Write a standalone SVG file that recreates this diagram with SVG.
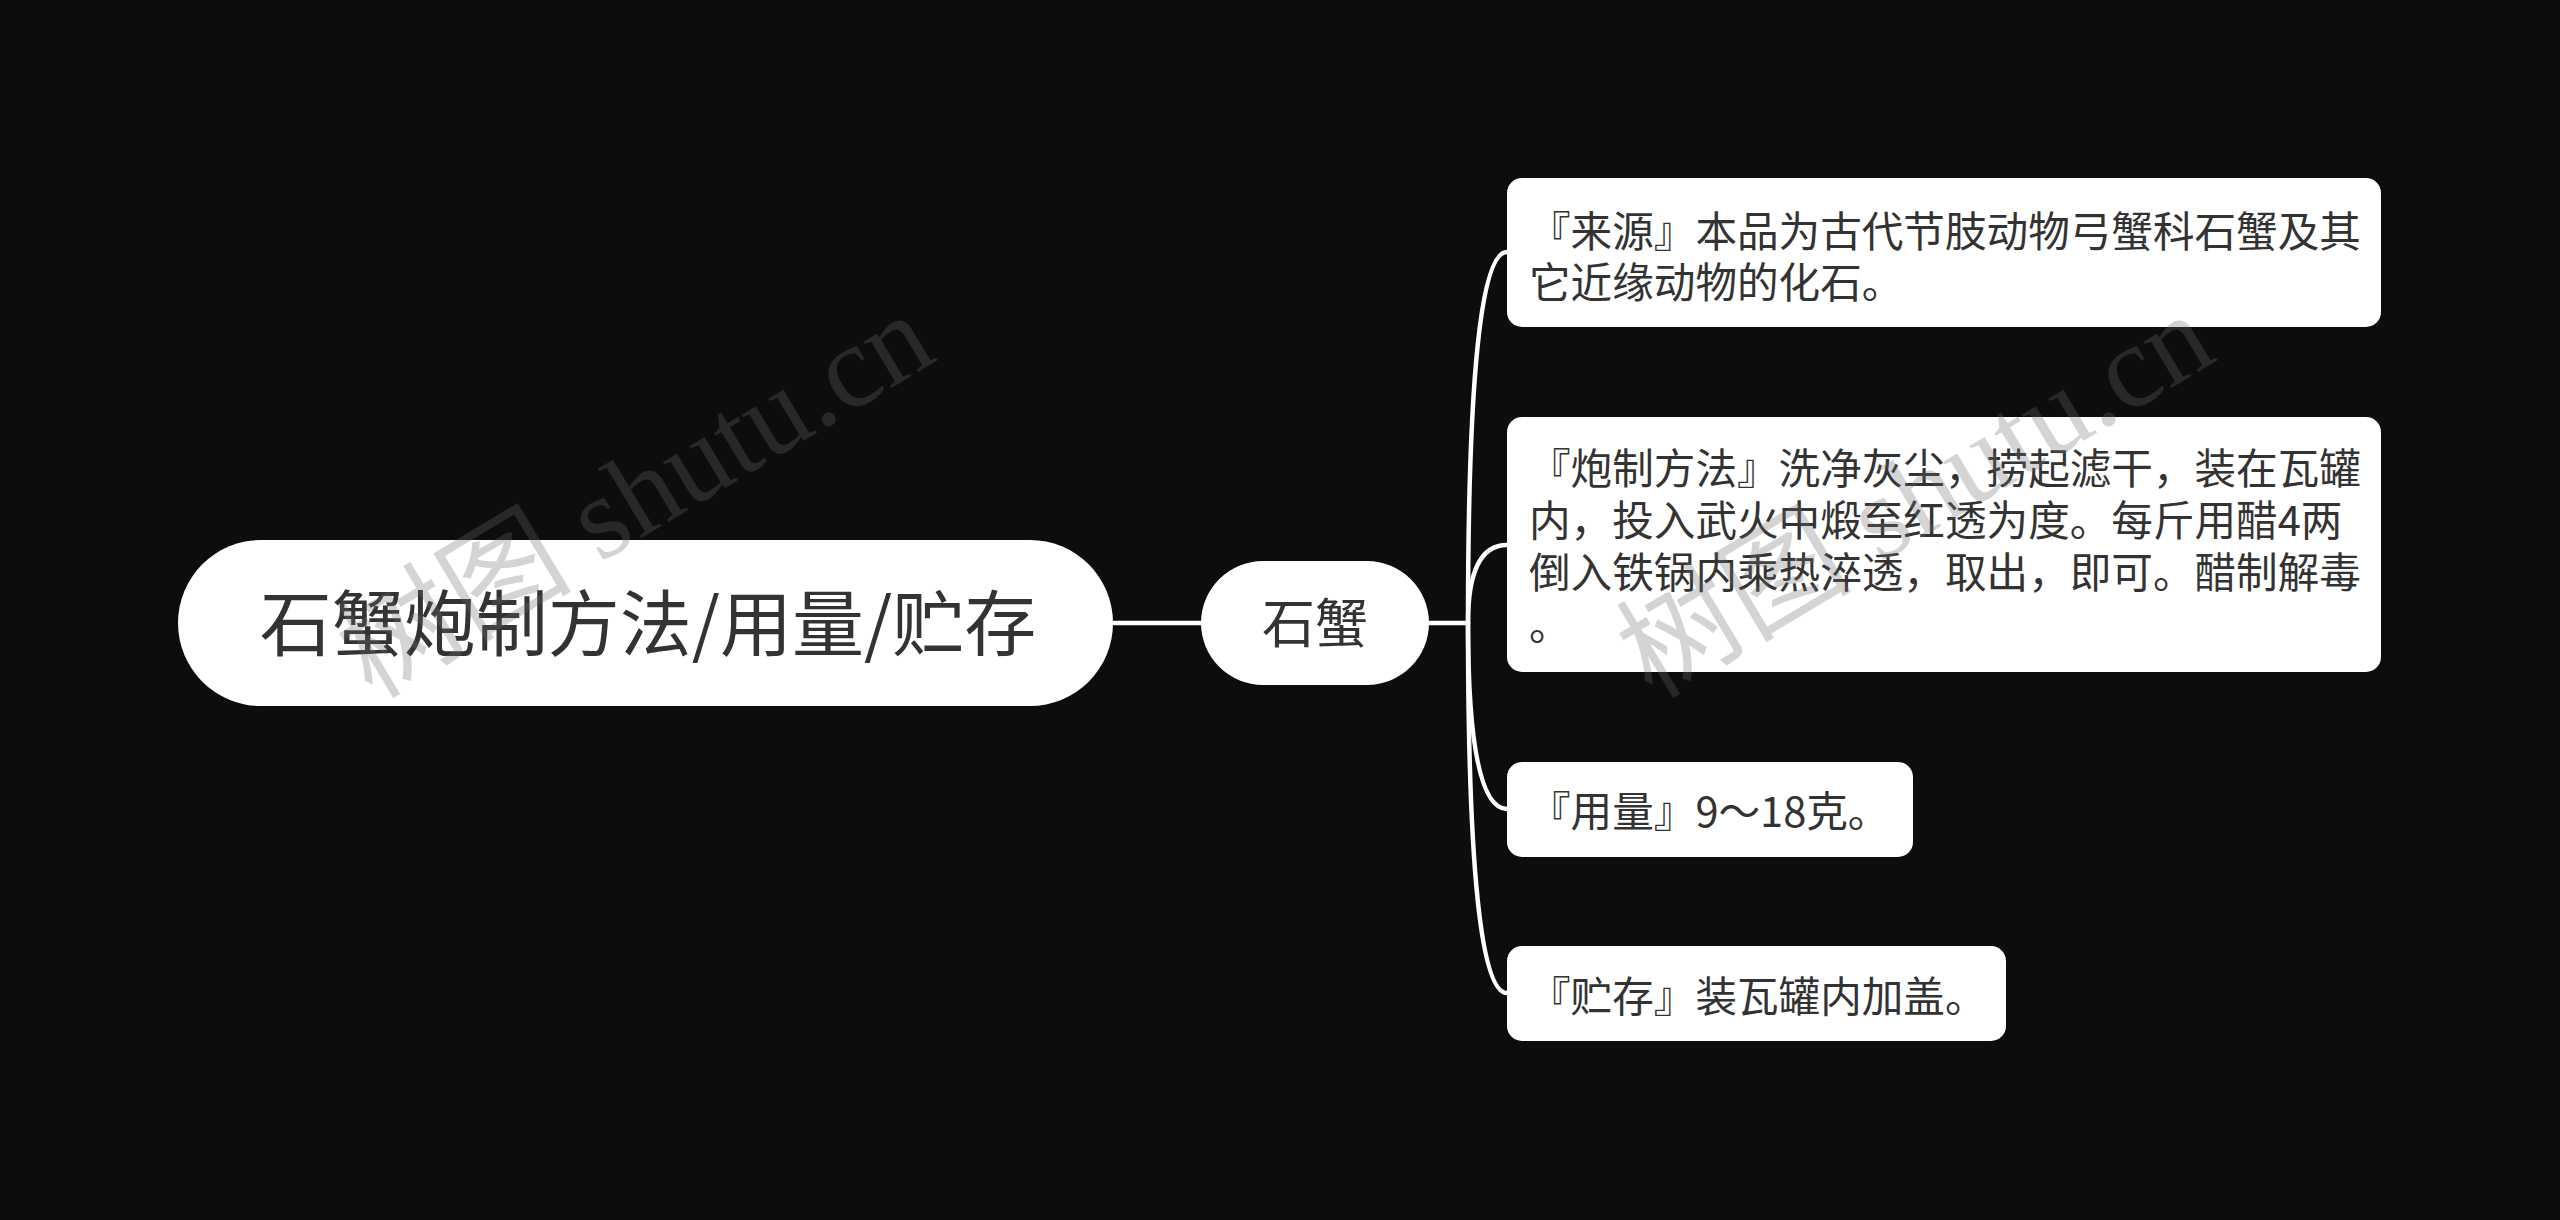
<svg xmlns="http://www.w3.org/2000/svg" width="2560" height="1220" viewBox="0 0 2560 1220">
<style>
.bg{fill:#0d0d0d}
.node{fill:#ffffff}
.t{font-family:"Noto Sans CJK SC","Noto Sans",sans-serif;fill:#333333}
.root{font-size:72px;text-anchor:middle}
.mid{font-size:53px;text-anchor:middle}
.leaf{font-size:41.6px}
.conn{fill:none;stroke:#ffffff;stroke-width:4.5;stroke-linecap:round}
.wm{font-family:"Liberation Serif","Noto Sans CJK SC",serif;font-size:118px;fill:#6c6c6c;fill-opacity:0.29}
</style>
<rect class="bg" x="0" y="0" width="2560" height="1220"/>
<g id="connectors">
<path class="conn" d="M1113,623 H1201"/>
<path class="conn" d="M1429,623 H1468"/>
<path class="conn" d="M1468,623 Q1468,252 1507,252"/>
<path class="conn" d="M1468,623 Q1468,545 1507,545"/>
<path class="conn" d="M1468,623 Q1468,809 1507,809"/>
<path class="conn" d="M1468,623 Q1468,993 1507,993"/>
</g>
<g id="root">
<rect class="node" x="178" y="540" width="935" height="166" rx="83"/>
<text class="t root" x="648" y="650">石蟹炮制方法/用量/贮存</text>
</g>
<g id="mid">
<rect class="node" x="1201" y="561" width="228" height="124" rx="62"/>
<text class="t mid" x="1315" y="643">石蟹</text>
</g>
<g id="leaf1">
<rect class="node" x="1507" y="178" width="874" height="149" rx="15"/>
<text class="t leaf" x="1529" y="247">『来源』本品为古代节肢动物弓蟹科石蟹及其</text>
<text class="t leaf" x="1529" y="298">它近缘动物的化石。</text>
</g>
<g id="leaf2">
<rect class="node" x="1507" y="417" width="874" height="255" rx="15"/>
<text class="t leaf" x="1529" y="484">『炮制方法』洗净灰尘，捞起滤干，装在瓦罐</text>
<text class="t leaf" x="1529" y="536">内，投入武火中煅至红透为度。每斤用醋4两</text>
<text class="t leaf" x="1529" y="588">倒入铁锅内乘热淬透，取出，即可。醋制解毒</text>
<text class="t leaf" x="1529" y="640">。</text>
</g>
<g id="leaf3">
<rect class="node" x="1507" y="762" width="406" height="95" rx="15"/>
<text class="t leaf" x="1529" y="827">『用量』9～18克。</text>
</g>
<g id="leaf4">
<rect class="node" x="1507" y="946" width="499" height="95" rx="15"/>
<text class="t leaf" x="1529" y="1012">『贮存』装瓦罐内加盖。</text>
</g>
<g id="watermarks">
<text class="wm" transform="translate(372,700) rotate(-31)">树图 shutu.cn</text>
<text class="wm" transform="translate(1652,700) rotate(-31)">树图 shutu.cn</text>
</g>
</svg>
